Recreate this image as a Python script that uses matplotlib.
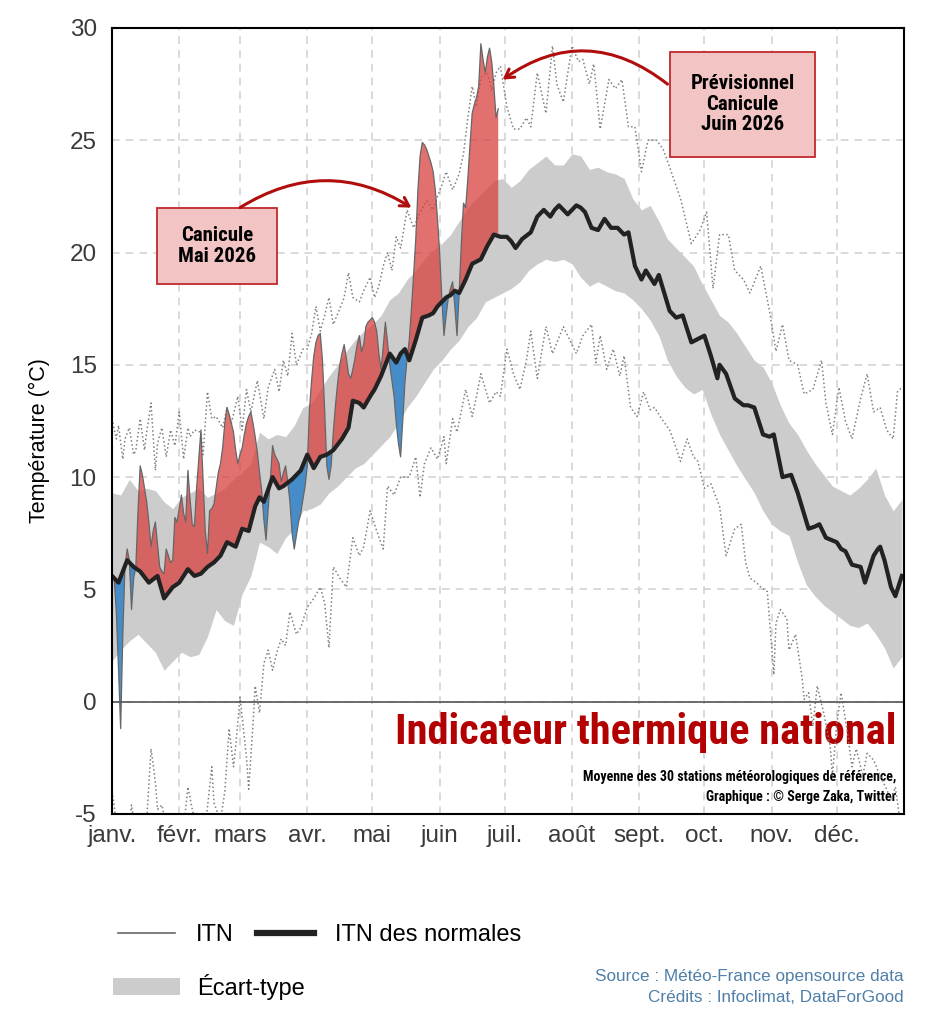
import numpy as np
import matplotlib
matplotlib.use('Agg')
import matplotlib.pyplot as plt
from matplotlib import font_manager as fm
from matplotlib.lines import Line2D
from matplotlib.patches import Patch, Rectangle

# --- données (jour de l'année, °C) ---
mois = ['janv.', 'févr.', 'mars', 'avr.', 'mai', 'juin', 'juil.', 'août', 'sept.', 'oct.', 'nov.', 'déc.']
debut_mois = [0, 31, 59, 90, 120, 151, 181, 212, 243, 273, 304, 334]

jours_norm = [0, 3, 7, 10, 13, 17, 21, 24, 28, 31, 35, 38, 41, 44, 47, 50, 53, 57, 60, 63, 66, 68, 70, 74, 77, 79,
              83, 87, 90, 93, 96, 99, 102, 106, 109, 111, 114, 116, 119, 121, 124, 126, 128, 131, 133, 135, 137, 140,
              143, 146, 148, 150, 152, 154, 156, 158, 160, 163, 166, 168, 170, 173, 176, 179, 182, 184, 186, 189, 193,
              196, 199, 202, 204, 206, 208, 210, 212, 214, 216, 218, 221, 224, 227, 230, 233, 236, 238, 241, 244, 246,
              250, 252, 257, 260, 263, 267, 271, 273, 276, 279, 280, 283, 287, 291, 293, 296, 300, 303, 305, 309, 313,
              316, 321, 324, 326, 329, 334, 336, 338, 341, 345, 347, 351, 353, 354, 356, 359, 361, 364]
normale = [5.6, 5.3, 6.3, 6.0, 5.8, 5.3, 5.6, 4.6, 5.1, 5.3, 5.9, 5.6, 5.7, 6.0, 6.2, 6.5, 7.1, 6.9, 7.7, 7.6, 8.7, 9.1,
           8.9, 10.0, 9.5, 9.6, 9.9, 10.3, 11.0, 10.4, 10.9, 11.0, 11.2, 11.7, 12.2, 13.4, 13.3, 13.1, 13.6, 13.9, 14.5,
           15.0, 15.5, 15.1, 15.5, 15.7, 15.2, 16.1, 17.1, 17.2, 17.3, 17.6, 17.8, 18.0, 18.1, 18.3, 18.2, 18.8, 19.5,
           19.6, 19.7, 20.3, 20.8, 20.7, 20.7, 20.5, 20.2, 20.6, 20.9, 21.6, 21.9, 21.6, 21.9, 22.1, 21.9, 21.7, 21.9,
           22.1, 22.0, 21.8, 21.1, 21.0, 21.5, 21.1, 21.1, 20.8, 20.9, 19.4, 18.8, 19.2, 18.6, 19.0, 17.4, 17.1, 17.2,
           16.0, 16.2, 16.3, 15.4, 14.4, 15.0, 14.6, 13.5, 13.2, 13.2, 13.1, 11.9, 11.8, 11.9, 10.0, 10.1, 9.3, 7.7,
           7.8, 7.9, 7.3, 7.1, 6.8, 6.7, 6.1, 6.0, 5.3, 6.5, 6.8, 6.9, 6.3, 5.1, 4.7, 5.6]

jours_bande = list(range(0, 365, 4))
ecart_haut = [9.3, 9.2, 9.9, 9.4, 9.5, 9.4, 8.9, 8.6, 9.1, 9.3, 9.5, 9.1, 9.3, 9.5, 9.9, 10.2, 10.6, 12.0, 11.7, 11.9,
              11.8, 12.3, 13.1, 13.3, 13.9, 14.5, 15.0, 15.6, 16.1, 16.5, 16.8, 17.2, 17.9, 18.2, 18.8, 19.2, 19.7,
              20.1, 20.4, 20.8, 21.4, 22.0, 22.4, 22.8, 23.2, 23.3, 22.9, 23.2, 23.7, 24.0, 24.3, 23.9, 23.9, 24.4,
              24.3, 23.7, 23.8, 23.6, 23.5, 23.3, 22.4, 21.9, 22.1, 21.4, 20.6, 20.2, 19.8, 19.4, 18.6, 17.9, 17.2,
              16.9, 16.4, 15.8, 15.2, 14.9, 14.2, 13.2, 12.4, 11.9, 11.2, 10.6, 10.1, 9.6, 9.4, 9.2, 9.5, 9.9, 10.4,
              9.2, 8.5, 9.0]
ecart_bas = [1.8, 2.3, 2.7, 3.0, 2.6, 2.2, 1.4, 1.8, 2.2, 2.0, 2.1, 2.9, 4.1, 3.6, 3.4, 4.8, 5.6, 7.1, 6.9, 6.6, 7.3,
             7.7, 8.5, 8.6, 8.8, 9.3, 9.6, 10.0, 10.4, 10.6, 11.0, 11.4, 11.8, 12.4, 13.1, 13.6, 14.2, 14.8, 15.2,
             15.7, 16.1, 16.7, 17.1, 17.8, 18.0, 18.2, 18.4, 18.7, 19.2, 19.5, 19.7, 19.6, 19.7, 19.5, 18.9, 18.5,
             18.7, 18.5, 18.3, 18.2, 17.9, 17.5, 17.0, 16.3, 15.2, 14.5, 14.0, 13.7, 13.9, 12.8, 11.9, 11.2, 10.5,
             9.9, 9.3, 8.5, 7.9, 7.6, 7.4, 6.2, 5.2, 4.7, 4.3, 4.0, 3.7, 3.4, 3.3, 3.5, 3.0, 2.4, 1.5, 2.0]

jours_max = [0, 2, 3, 5, 6, 8, 10, 11, 13, 15, 16, 18, 20, 21, 23, 25, 27, 29, 31, 33, 35, 36, 38, 41, 42, 44, 46, 48,
             51, 53, 55, 58, 60, 62, 64, 67, 70, 72, 75, 77, 79, 81, 83, 85, 88, 90, 92, 94, 96, 98, 100, 102, 105,
             107, 109, 111, 114, 116, 119, 121, 123, 125, 127, 129, 131, 133, 136, 139, 142, 145, 148, 150, 152, 154,
             157, 160, 162, 164, 166, 168, 170, 173, 175, 177, 179, 182, 185, 188, 191, 193, 196, 200, 203, 205, 208,
             212, 215, 217, 220, 222, 225, 229, 232, 235, 238, 241, 244, 247, 251, 254, 257, 262, 267, 271, 274, 277,
             280, 284, 287, 291, 294, 299, 303, 306, 309, 312, 316, 319, 323, 327, 329, 332, 335, 338, 341, 345, 348,
             351, 354, 357, 360, 362, 364]
record_max = [12.6, 11.7, 12.3, 10.8, 11.7, 12.2, 11.0, 11.2, 12.6, 11.2, 12.0, 13.3, 10.3, 11.5, 12.2, 10.9, 12.1,
              11.4, 12.9, 10.8, 12.2, 11.8, 12.1, 12.0, 11.0, 13.8, 12.6, 12.7, 12.2, 13.1, 12.4, 13.6, 12.1, 13.9,
              12.9, 14.3, 12.6, 14.0, 14.8, 13.8, 15.2, 14.5, 16.4, 15.0, 15.7, 15.7, 16.4, 17.6, 16.5, 17.2, 18.0,
              16.8, 17.5, 18.0, 19.1, 18.0, 17.8, 18.3, 18.9, 18.0, 18.5, 19.4, 20.0, 19.2, 20.7, 20.2, 21.9, 21.1,
              21.8, 22.3, 21.9, 22.5, 23.0, 23.6, 22.8, 23.5, 24.4, 26.0, 27.4, 26.5, 27.8, 28.0, 27.2, 28.0, 28.3,
              26.5, 25.5, 25.5, 26.0, 25.6, 28.0, 26.2, 29.2, 27.5, 26.7, 29.2, 28.5, 28.6, 27.5, 28.4, 25.5, 27.7,
              27.3, 27.7, 25.6, 25.6, 23.6, 25.0, 25.0, 24.6, 23.8, 22.4, 20.4, 21.0, 21.8, 18.4, 20.8, 20.8, 19.2,
              18.8, 18.2, 19.4, 17.4, 15.6, 16.8, 15.2, 15.0, 13.7, 13.9, 15.2, 13.3, 11.9, 14.0, 12.5, 11.7, 13.5,
              14.6, 12.9, 13.1, 12.1, 11.7, 13.8, 14.0]

jours_min = [0, 1, 2, 5, 8, 9, 11, 14, 16, 18, 19, 20, 21, 23, 26, 30, 33, 35, 37, 40, 43, 46, 47, 50, 52, 54, 56, 57,
             59, 60, 62, 63, 65, 66, 68, 70, 72, 74, 76, 78, 80, 82, 85, 87, 90, 93, 96, 98, 100, 102, 105, 108, 111,
             114, 116, 119, 122, 125, 127, 130, 133, 137, 140, 142, 144, 147, 150, 153, 154, 157, 159, 163, 166, 168,
             170, 174, 177, 179, 182, 185, 188, 191, 193, 196, 200, 203, 208, 211, 214, 217, 221, 223, 225, 228, 231,
             234, 236, 239, 242, 245, 248, 250, 254, 257, 260, 262, 265, 268, 270, 273, 276, 280, 283, 287, 290, 292,
             294, 297, 299, 302, 305, 306, 308, 311, 312, 315, 318, 319, 321, 323, 325, 328, 331, 332, 334, 336, 339,
             341, 343, 346, 348, 351, 354, 357, 359, 361, 363, 364]
record_min = [-4.0, -4.6, -5.6, -7.0, -5.5, -4.6, -6.0, -6.5, -5.3, -2.1, -2.8, -3.6, -4.8, -4.6, -6.0, -7.5, -5.6,
              -3.8, -4.8, -6.2, -5.6, -2.9, -4.5, -5.3, -4.0, -1.2, -2.9, -2.0, 0.2, -0.7, -2.5, -3.9, -1.0, 0.7,
              -0.5, 1.7, 2.3, 1.4, 2.2, 2.8, 2.5, 4.0, 3.0, 3.3, 4.2, 4.6, 5.1, 4.4, 2.4, 6.0, 5.5, 5.1, 7.3, 6.5,
              6.9, 8.5, 7.6, 6.8, 9.6, 9.2, 10.0, 10.0, 10.9, 9.1, 10.6, 11.3, 10.8, 11.8, 10.6, 12.6, 12.0, 13.9,
              12.7, 13.6, 14.6, 13.3, 13.8, 13.6, 15.7, 14.6, 13.9, 15.2, 16.5, 14.4, 16.7, 15.5, 16.7, 16.1, 15.5,
              16.3, 16.8, 15.1, 16.3, 14.8, 15.7, 14.5, 15.4, 13.1, 12.7, 13.8, 13.0, 13.1, 12.5, 12.1, 11.3, 10.7,
              11.7, 10.9, 10.7, 9.5, 9.7, 8.7, 6.5, 7.7, 7.9, 6.2, 5.5, 5.3, 5.1, 4.9, 1.2, 3.5, 4.1, 3.7, 2.3, 3.0,
              1.1, 0.1, 0.4, -1.1, 0.7, -0.5, -2.0, -3.3, -1.0, 0.4, -1.4, -2.9, -2.1, -3.3, -2.3, -2.6, -3.3, -3.9,
              -4.4, -3.8, -5.2, -5.5]

jours_itn = list(range(0, 179))
itn_2026 = [5.4, 5.5, 4.0, 1.5, -1.2, 3.0, 6.0, 6.8, 6.3, 4.1, 5.5, 6.0, 8.5, 10.5, 10.1, 9.5, 8.9, 8.0, 6.9, 7.6,
            8.0, 7.0, 6.0, 5.8, 5.7, 6.8, 6.5, 6.2, 6.3, 8.2, 8.0, 8.6, 9.2, 8.4, 8.0, 10.3, 9.0, 7.9, 7.8, 9.5,
            10.8, 12.1, 9.8, 7.6, 6.6, 8.5, 8.6, 8.8, 9.5, 10.2, 10.6, 11.3, 12.4, 13.1, 12.8, 12.4, 12.0, 11.2,
            10.6, 11.0, 11.3, 11.9, 12.4, 12.7, 12.9, 12.4, 11.8, 11.1, 10.2, 9.4, 8.1, 7.2, 8.6, 9.9, 11.4, 11.0,
            10.8, 10.6, 9.8, 10.2, 10.5, 9.8, 8.9, 7.5, 6.8, 7.4, 8.0, 8.4, 9.0, 9.6, 10.5, 13.0, 14.3, 15.4, 16.0,
            16.3, 16.4, 15.2, 13.0, 10.5, 9.9, 10.5, 12.0, 13.2, 14.2, 15.0, 15.5, 15.9, 15.3, 14.6, 14.4, 14.8,
            15.3, 15.9, 16.3, 15.6, 15.9, 16.7, 16.9, 17.0, 17.1, 16.9, 16.5, 15.5, 14.8, 15.8, 16.9, 16.0, 15.0,
            14.3, 13.6, 12.4, 11.5, 10.9, 12.5, 14.2, 15.3, 16.1, 17.5, 19.0, 20.6, 22.8, 24.3, 24.9, 24.8, 24.6,
            24.3, 24.0, 23.6, 22.8, 21.5, 20.0, 18.0, 16.3, 17.2, 18.0, 18.4, 18.7, 17.6, 16.3, 18.2, 20.4, 22.2,
            22.0, 23.3, 24.8, 26.2, 26.6, 26.9, 27.4, 29.3, 28.6, 28.0, 28.7, 29.1, 28.5, 27.4, 26.0, 26.4]

# --- polices ---
noms = {f.name for f in fm.fontManager.ttflist}
police = 'Liberation Sans' if 'Liberation Sans' in noms else 'DejaVu Sans'
police_titre = 'DejaVu Sans'
for cand in ['Roboto Condensed', 'Noto Sans ExtraCondensed', 'Noto Sans Condensed', 'Liberation Sans Narrow']:
    if cand in noms:
        police_titre = cand
        break
plt.rcParams['font.family'] = [police, 'DejaVu Sans']
plt.rcParams['axes.unicode_minus'] = False

ROUGE = '#d8403f'
BLEU = '#3a87c8'
ROUGE_FONCE = '#b00d0d'

fig = plt.figure(figsize=(9.37, 10.21), dpi=100)
ax = fig.add_axes([0.1195, 0.2028, 0.8453, 0.7698])

x_b = np.array(jours_bande)
ax.fill_between(x_b, ecart_bas, ecart_haut, color='#cccccc', lw=0, zorder=2)
ax.plot(jours_max, record_max, ls=':', color='#808080', lw=1.1, zorder=3)
ax.plot(jours_min, record_min, ls=':', color='#808080', lw=1.1, zorder=3)

x_i = np.array(jours_itn, dtype=float)
y_i = np.array(itn_2026)
n_i = np.interp(x_i, jours_norm, normale)
ax.fill_between(x_i, y_i, n_i, where=y_i >= n_i, interpolate=True, color=ROUGE, alpha=0.75, lw=0, zorder=4)
ax.fill_between(x_i, y_i, n_i, where=y_i < n_i, interpolate=True, color=BLEU, alpha=0.92, lw=0, zorder=4)
ax.plot(x_i, y_i, color='#666666', lw=0.9, zorder=5)
ax.axhline(0, color='#555555', lw=1.2, zorder=5)
ax.plot(jours_norm, normale, color='#222222', lw=3, zorder=6, solid_joinstyle='round')

ax.set_xlim(0, 365)
ax.set_ylim(-5, 30)
ax.set_xticks(debut_mois)
ax.set_xticklabels(mois)
ax.set_yticks(np.arange(-5, 31, 5))
ax.tick_params(length=0, labelsize=17.5, labelcolor='#3a3a3a')
ax.tick_params(axis='y', pad=11)
ax.tick_params(axis='x', pad=8)
ax.grid(True, ls=(0, (5, 4)), color='#d0d0d0', lw=1.1, zorder=1)
ax.set_axisbelow(True)
for s in ax.spines.values():
    s.set_linewidth(1.5)
    s.set_color('black')
    s.set_zorder(10)
ax.set_ylabel('Température (°C)', fontsize=15.5)
ax.yaxis.set_label_coords(-0.078, 0.475)

# titre dans le graphique
ax.text(0.99, 0.103, 'Indicateur thermique national', transform=ax.transAxes, ha='right', va='center',
        fontsize=30.5, fontweight='bold', color='#b30000', family=police_titre, zorder=2.5)
ax.text(0.99, 0.047, 'Moyenne des 30 stations météorologiques de référence,', transform=ax.transAxes,
        ha='right', va='center', fontsize=10, fontweight='bold', color='black', family=police_titre, zorder=2.5)
ax.text(0.99, 0.022, 'Graphique : © Serge Zaka, Twitter', transform=ax.transAxes,
        ha='right', va='center', fontsize=10, fontweight='bold', color='black', family=police_titre, zorder=2.5)

# encadrés
for (x0, y0, x1, y1), txt in [((0.0568, 0.6743, 0.2083, 0.771), 'Canicule\nMai 2026'),
                               ((0.7045, 0.8359, 0.8876, 0.9695), 'Prévisionnel\nCanicule\nJuin 2026')]:
    ax.add_patch(Rectangle((x0, y0), x1 - x0, y1 - y0, transform=ax.transAxes, facecolor='#f2c4c4',
                           edgecolor='#c0282d', lw=1.3, zorder=8))
    ax.text((x0 + x1) / 2, (y0 + y1) / 2, txt, transform=ax.transAxes, ha='center', va='center',
            fontsize=15, fontweight='bold', linespacing=1.1, family=police_titre, zorder=9)

ax.annotate('', xy=(138, 22.0), xytext=(59, 22.0),
            arrowprops=dict(arrowstyle='->,head_length=0.6,head_width=0.35', color=ROUGE_FONCE, lw=2.2,
                            connectionstyle='arc3,rad=-0.31', shrinkA=0, shrinkB=0), zorder=9)
ax.annotate('', xy=(180, 27.7), xytext=(256, 27.5),
            arrowprops=dict(arrowstyle='->,head_length=0.6,head_width=0.35', color=ROUGE_FONCE, lw=2.2,
                            connectionstyle='arc3,rad=0.37', shrinkA=0, shrinkB=0), zorder=9)

# légende : deux rangées indépendantes
leg1 = fig.legend([Line2D([], [], color='#666666', lw=1.2), Line2D([], [], color='#222222', lw=4.5)],
                  ['ITN', 'ITN des normales'], ncol=2, loc='center left', bbox_to_anchor=(118 / 937, 1 - 935 / 1021),
                  frameon=False, fontsize=17, handlelength=2.4, handletextpad=0.9, columnspacing=1.0, borderpad=0,
                  borderaxespad=0)
leg2 = fig.legend([Patch(facecolor='#cccccc', edgecolor='none')], ['Écart-type'], loc='center left',
                  bbox_to_anchor=(113 / 937, 1 - 987 / 1021), frameon=False, fontsize=17, handlelength=2.85,
                  handleheight=0.76, handletextpad=0.7, borderpad=0, borderaxespad=0)

fig.text(904 / 937, 1 - 976 / 1021, 'Source : Météo-France opensource data', ha='right', va='center',
         fontsize=12.3, color='#4f7fa8')
fig.text(904 / 937, 1 - 997 / 1021, 'Crédits : Infoclimat, DataForGood', ha='right', va='center',
         fontsize=12.3, color='#4f7fa8')

fig.savefig('out.png', dpi=100)
